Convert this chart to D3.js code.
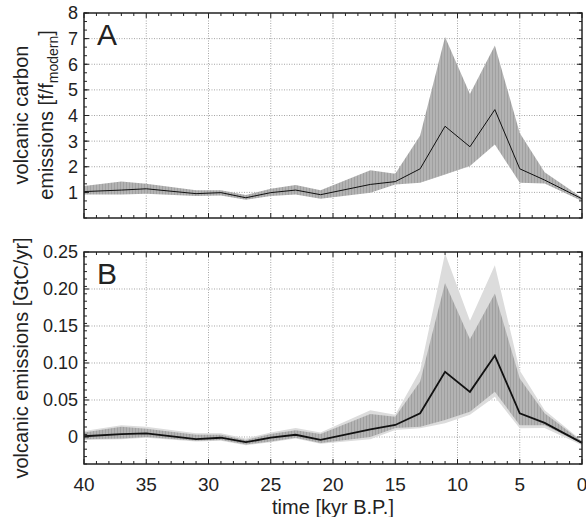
<!DOCTYPE html>
<html>
<head>
<meta charset="utf-8">
<script src="https://cdn.jsdelivr.net/npm/d3@7"></script>
<style>
  body { margin: 0; background: #fff; }
  svg { display: block; font-family: "Liberation Sans", Arial, sans-serif; }
</style>
</head>
<body>
<div id="chart"></div>
<script>
// time axis in kyr before present
const times = [40, 37, 35, 31, 29, 27, 25, 23, 21, 17, 15, 13, 11, 9, 7, 5, 3, 0];

// panel A: relative volcanic carbon emissions f/f_modern
const relMean = [1.03, 1.09, 1.14, 0.95, 0.99, 0.79, 0.99, 1.09, 0.91, 1.31, 1.42, 1.92, 3.58, 2.78, 4.23, 1.92, 1.48, 0.75];
const relUpper = [1.25, 1.42, 1.34, 1.08, 1.08, 0.9, 1.14, 1.29, 1.08, 1.86, 1.73, 3.22, 7.06, 4.84, 6.73, 3.32, 1.79, 0.79];
const relLower = [0.92, 0.92, 0.95, 0.86, 0.88, 0.71, 0.86, 0.92, 0.75, 0.99, 1.31, 1.38, 1.7, 2.03, 2.87, 1.38, 1.35, 0.66];

// panel B: absolute volcanic emissions GtC/yr
const absMean = [0.001, 0.004, 0.005, -0.003, -0.001, -0.007, -0.001, 0.003, -0.004, 0.0104, 0.0162, 0.032, 0.088, 0.061, 0.11, 0.032, 0.019, -0.008];
const absUpper = [0.006, 0.014, 0.011, 0.003, 0.003, -0.004, 0.004, 0.009, 0.004, 0.031, 0.0275, 0.075, 0.208, 0.132, 0.194, 0.079, 0.032, -0.006];
const absLower = [-0.003, -0.002, 0.0, -0.005, -0.004, -0.01, -0.006, -0.001, -0.008, 0.0, 0.012, 0.014, 0.023, 0.034, 0.061, 0.016, 0.016, -0.009];
const absOuterUpper = [0.008, 0.016, 0.014, 0.005, 0.005, -0.002, 0.006, 0.012, 0.006, 0.036, 0.03, 0.09, 0.248, 0.157, 0.232, 0.09, 0.036, -0.005];
const absOuterLower = [-0.004, -0.003, -0.001, -0.006, -0.005, -0.011, -0.007, -0.002, -0.009, -0.003, 0.0095, 0.0117, 0.0185, 0.03, 0.0545, 0.0117, 0.012, -0.011];

const xTicks = [40, 35, 30, 25, 20, 15, 10, 5, 0];
const relTicks = [1, 2, 3, 4, 5, 6, 7, 8];
const absTicks = [0, 0.05, 0.1, 0.15, 0.2, 0.25];

const width = 586;
const height = 517;
const left = 84;
const right = 582;

const svg = d3.select("#chart").append("svg")
  .attr("width", width)
  .attr("height", height);

const defs = svg.append("defs");
const stripes = defs.append("pattern")
  .attr("id", "stripes")
  .attr("patternUnits", "userSpaceOnUse")
  .attr("width", 3)
  .attr("height", 10);
stripes.append("rect").attr("width", 3).attr("height", 10).attr("fill", "#b3b3b3");
stripes.append("rect").attr("width", 1).attr("height", 10).attr("fill", "#a0a0a0");

const x = d3.scaleLinear().domain([40, 0]).range([left, right]);

function drawPanel({ top, bottom, domain, ticks, minorStep, fmt, bands, mean, lineWidth, letter, showX }) {
  const y = d3.scaleLinear().domain(domain).range([bottom, top]);
  const g = svg.append("g");

  // grid
  g.append("g").selectAll("line")
    .data(xTicks.filter((t) => t !== 40 && t !== 0))
    .join("line")
    .attr("x1", (d) => x(d)).attr("x2", (d) => x(d))
    .attr("y1", top).attr("y2", bottom)
    .attr("stroke", "#a5a5a5").attr("stroke-dasharray", "1,1.5");
  g.append("g").selectAll("line")
    .data(ticks.filter((t) => y(t) > top + 1 && y(t) < bottom - 1))
    .join("line")
    .attr("x1", left).attr("x2", right)
    .attr("y1", (d) => y(d)).attr("y2", (d) => y(d))
    .attr("stroke", "#a5a5a5").attr("stroke-dasharray", "1,1.5");

  // bands
  bands.forEach((b) => {
    const area = d3.area()
      .x((d, i) => x(times[i]))
      .y0((d, i) => y(b.lower[i]))
      .y1((d) => y(d));
    g.append("path").attr("d", area(b.upper)).attr("fill", b.fill);
  });

  const line = d3.line().x((d, i) => x(times[i])).y((d) => y(d));
  g.append("path").attr("d", line(mean))
    .attr("fill", "none").attr("stroke", "#111").attr("stroke-width", lineWidth);

  // inward ticks on all sides
  const xMinor = d3.range(0, 41, 1);
  const yMinor = d3.range(0, 1000).map((i) => domain[0] + i * minorStep)
    .filter((v) => v <= domain[1] + 1e-9);
  const tickG = g.append("g").attr("stroke", "#222").attr("stroke-width", 1);
  xMinor.forEach((t) => {
    const len = t % 5 === 0 ? 5 : 3;
    tickG.append("line").attr("x1", x(t)).attr("x2", x(t)).attr("y1", bottom).attr("y2", bottom - len);
    tickG.append("line").attr("x1", x(t)).attr("x2", x(t)).attr("y1", top).attr("y2", top + len);
  });
  yMinor.forEach((v) => {
    tickG.append("line").attr("x1", left).attr("x2", left + 3).attr("y1", y(v)).attr("y2", y(v));
    tickG.append("line").attr("x1", right).attr("x2", right - 3).attr("y1", y(v)).attr("y2", y(v));
  });
  ticks.forEach((v) => {
    tickG.append("line").attr("x1", left).attr("x2", left + 5).attr("y1", y(v)).attr("y2", y(v));
    tickG.append("line").attr("x1", right).attr("x2", right - 5).attr("y1", y(v)).attr("y2", y(v));
  });

  g.append("rect")
    .attr("x", left).attr("y", top)
    .attr("width", right - left).attr("height", bottom - top)
    .attr("fill", "none").attr("stroke", "#222").attr("stroke-width", 1.5);

  g.append("g").selectAll("text")
    .data(ticks)
    .join("text")
    .attr("x", left - 6)
    .attr("y", (d) => y(d))
    .attr("dy", "0.36em")
    .attr("text-anchor", "end")
    .attr("font-size", 18)
    .attr("fill", "#222")
    .text(fmt);

  if (showX) {
    g.append("g").selectAll("text")
      .data(xTicks)
      .join("text")
      .attr("x", (d) => x(d))
      .attr("y", bottom + 27)
      .attr("text-anchor", "middle")
      .attr("font-size", 19)
      .attr("fill", "#222")
      .text((d) => d);
  }

  g.append("text")
    .attr("x", left + 13)
    .attr("y", top + 32)
    .attr("font-size", 30)
    .attr("fill", "#222")
    .text(letter);

  return y;
}

drawPanel({
  top: 13, bottom: 218, domain: [0, 8], ticks: relTicks, minorStep: 1 / 3,
  fmt: (d) => d,
  bands: [{ upper: relUpper, lower: relLower, fill: "url(#stripes)" }],
  mean: relMean, lineWidth: 1, letter: "A", showX: false,
});

drawPanel({
  top: 252, bottom: 464, domain: [-0.0365, 0.25], ticks: absTicks, minorStep: 0.01,
  fmt: (d) => (d === 0 ? "0" : d3.format(".2f")(d)),
  bands: [
    { upper: absOuterUpper, lower: absOuterLower, fill: "#dcdcdc" },
    { upper: absUpper, lower: absLower, fill: "url(#stripes)" },
  ],
  mean: absMean, lineWidth: 1.8, letter: "B", showX: true,
});

// axis titles
const titleA = svg.append("text")
  .attr("transform", "translate(0,115) rotate(-90)")
  .attr("text-anchor", "middle")
  .attr("font-size", 20)
  .attr("fill", "#222");
titleA.append("tspan").attr("x", 0).attr("y", 28).text("volcanic carbon");
const line2 = titleA.append("tspan").attr("x", 0).attr("y", 53);
line2.append("tspan").text("emissions [f/f");
line2.append("tspan").attr("font-size", 14).attr("dy", 5).text("modern");
line2.append("tspan").attr("dy", -5).text("]");

svg.append("text")
  .attr("transform", "translate(28,358) rotate(-90)")
  .attr("text-anchor", "middle")
  .attr("font-size", 20)
  .attr("fill", "#222")
  .text("volcanic emissions [GtC/yr]");

svg.append("text")
  .attr("x", (left + right) / 2)
  .attr("y", 514)
  .attr("text-anchor", "middle")
  .attr("font-size", 20)
  .attr("fill", "#222")
  .text("time [kyr B.P.]");
</script>
</body>
</html>
